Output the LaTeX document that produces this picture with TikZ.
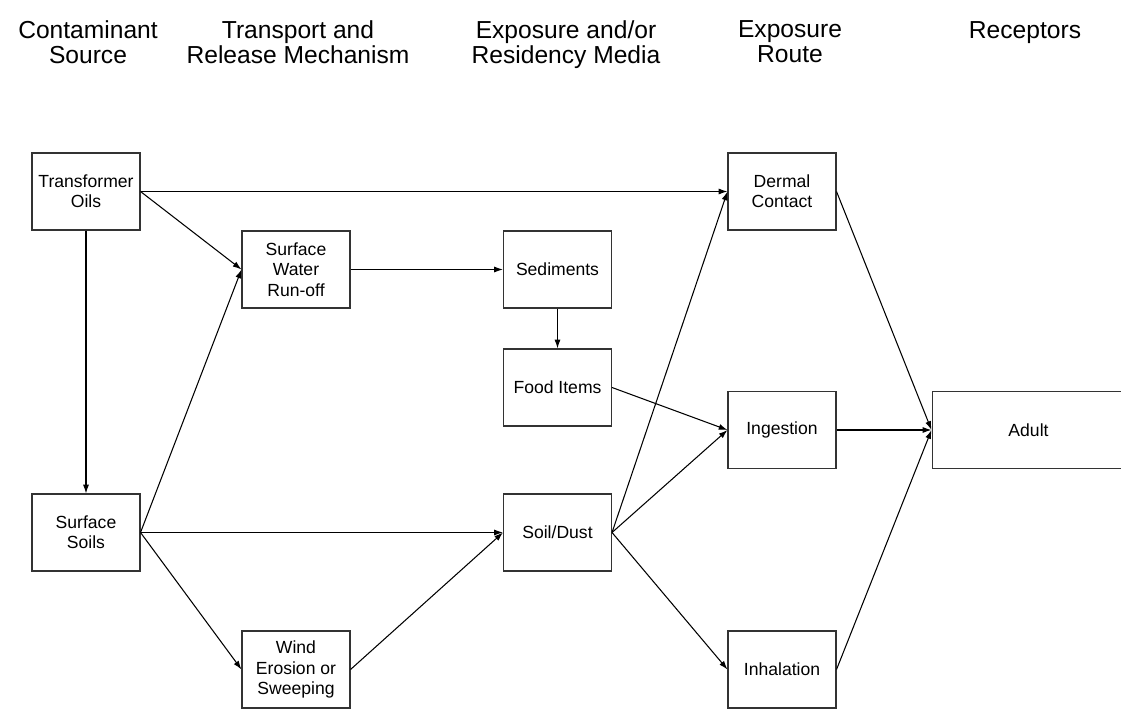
\documentclass[tikz,border=0pt]{standalone}
\usepackage{fontspec}
\setmainfont{Liberation Sans}
\usetikzlibrary{positioning,arrows.meta}
\tikzset{
  flowarrow/.style={-{Latex[length=5pt,width=3.4pt]}, line width=0.6pt},
  boxnode/.style={draw=black!80, line width=0.6pt, minimum width=2.16cm, minimum height=1.54cm, align=center, inner sep=1pt, font=\fontsize{10}{11.6}\selectfont},
  headnode/.style={align=center, inner sep=0pt, font=\fontsize{14}{14.3}\selectfont}
}
\begin{document}
\begin{tikzpicture}[x=0.02cm, y=-0.02cm]
  \useasboundingbox (0,0) rectangle (1121,709);
  % column headings
  \node[headnode] (h1) at (88,42) {Contaminant\\Source};
  \node[headnode] (h2) at (298,42) {Transport and\\Release Mechanism};
  \node[headnode] (h3) at (566,45) {Exposure and/or\\Residency Media};
  \node[headnode] (h4) at (790,42) {Exposure\\Route};
  \node[headnode, anchor=north] (h5) at (1025,21) {Receptors};
  % boxes
  \node[boxnode] (oils) at (86,191.5) {Transformer\\Oils};
  \node[boxnode] (soils) at (86,532.5) {Surface\\Soils};
  \node[boxnode] (runoff) at (296,269.5) {Surface\\Water\\Run-off};
  \node[boxnode] (wind) at (296,669.5) {Wind\\Erosion or\\Sweeping};
  \node[boxnode] (sed) at (557.5,269.5) {Sediments};
  \node[boxnode] (food) at (557.5,387.5) {Food Items};
  \node[boxnode] (dust) at (557.5,532.5) {Soil/Dust};
  \node[boxnode] (dermal) at (782,191.5) {Dermal\\Contact};
  \node[boxnode] (ingest) at (782,430) {Ingestion};
  \node[boxnode] (inhale) at (782,669.5) {Inhalation};
  \node[boxnode, minimum width=3.86cm] (adult) at (1028.5,430) {Adult};
  % connectors
  \draw[flowarrow] (oils.east) -- (dermal.west);
  \draw[flowarrow] (oils.east) -- (runoff.west);
  \draw[flowarrow] (oils.south) -- (soils.north);
  \draw[flowarrow] (soils.east) -- (runoff.west);
  \draw[flowarrow] (soils.east) -- (dust.west);
  \draw[flowarrow] (soils.east) -- (wind.west);
  \draw[flowarrow] (wind.east) -- (dust.west);
  \draw[flowarrow] (runoff.east) -- (sed.west);
  \draw[flowarrow] (sed.south) -- (food.north);
  \draw[flowarrow] (food.east) -- (ingest.west);
  \draw[flowarrow] (dust.east) -- (dermal.west);
  \draw[flowarrow] (dust.east) -- (ingest.west);
  \draw[flowarrow] (dust.east) -- (inhale.west);
  \draw[flowarrow] (dermal.east) -- (adult.west);
  \draw[flowarrow] (ingest.east) -- (adult.west);
  \draw[flowarrow] (inhale.east) -- (adult.west);
\end{tikzpicture}
\end{document}
